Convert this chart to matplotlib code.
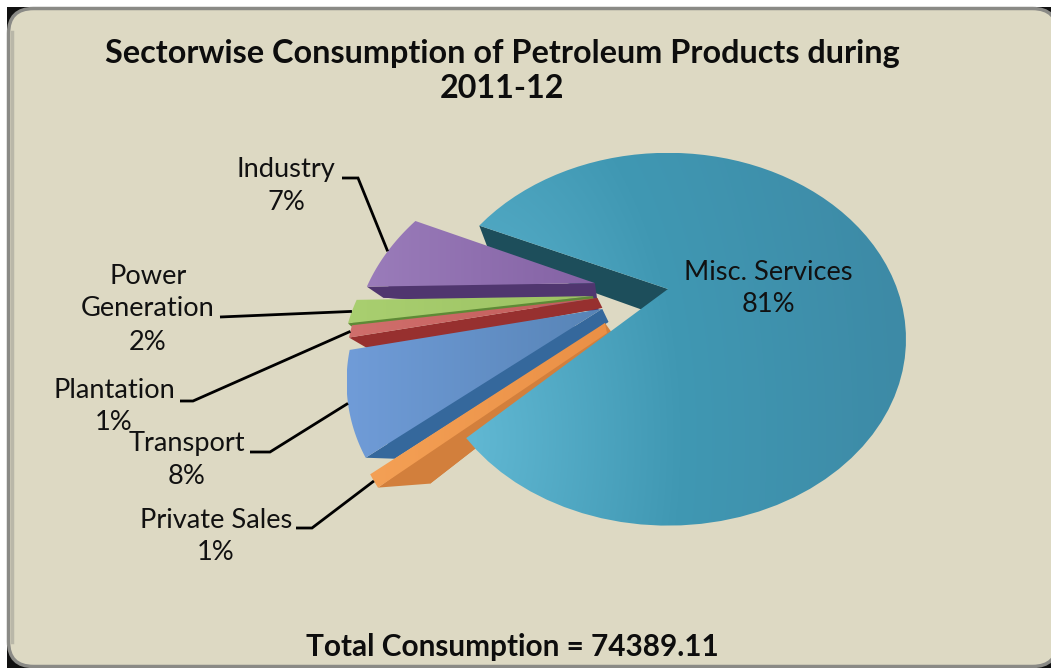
import numpy as np
import matplotlib
matplotlib.use("Agg")
import matplotlib.pyplot as plt
from matplotlib.patches import FancyBboxPatch, Polygon
from matplotlib.colors import to_rgb

# Sector shares of petroleum consumption, in percent
sectors = ["Misc. Services", "Industry", "Power Generation", "Plantation", "Transport", "Private Sales"]
shares = [81, 7, 2, 1, 8, 1]
total_consumption = 74389.11
title_lines = ["Sectorwise Consumption of Petroleum Products during", "2011-12"]

# Pie projection, in figure pixels
APEX = (668.0, 289.0)
WIDTH, HEIGHT, PERSP = 232.0, 175.0, 0.2727
START_ANGLE = 224.4
# Displacement of each exploded slice in unit-disc coordinates, and its radius
EXPLODE = {"Industry": (-0.318, 0.034), "Power Generation": (-0.32, -0.04), "Plantation": (-0.30, -0.05),
           "Transport": (-0.275, -0.11), "Private Sales": (-0.258, -0.1845)}
RADIUS = {"Misc. Services": 0.988, "Industry": 0.985, "Power Generation": 1.0, "Plantation": 1.0,
          "Transport": 1.0, "Private Sales": 0.975}
# Lower-face offset in pixels at the apex and at the rim, and its inward taper
DEPTH = {"Misc. Services": (30, 30), "Industry": (28, 11), "Power Generation": (3, 3), "Plantation": (10, 13),
         "Transport": (13, 1), "Private Sales": (16, -4)}
TAPER = {"Misc. Services": 0.94, "Industry": 0.946, "Power Generation": 0.99, "Plantation": 0.93,
         "Transport": 0.905, "Private Sales": 0.82}
TOP_COLORS = {"Industry": ("#9a7cba", "#8462a4"), "Power Generation": ("#a9cf70", "#9cc262"),
              "Plantation": ("#d06f6c", "#c25c5a"), "Transport": ("#709cd8", "#5784b6"),
              "Private Sales": ("#f4a055", "#ea9046")}
WALL_COLORS = {"Misc. Services": "#1d4e5b", "Industry": "#50366f", "Power Generation": "#5e8a36",
               "Plantation": "#97302f", "Transport": "#35689c", "Private Sales": "#d27f3c"}
# The thin private-sales slice keeps some width where it meets the centre
APEX_STRIP = {"Private Sales": (2, 10)}

fig = plt.figure(figsize=(10.51, 6.68), dpi=100, facecolor="white")
ax = fig.add_axes([0, 0, 1, 1])
ax.set_xlim(0, 1051)
ax.set_ylim(668, 0)
ax.axis("off")


def project(X, Y):
    k = 1 + PERSP * Y
    return APEX[0] + WIDTH * X / k, APEX[1] - HEIGHT * Y / k


def top_face(a0, a1, off, radius):
    t = np.radians(np.linspace(a0, a1, 80))
    X = np.r_[0, radius * np.cos(t)] + off[0]
    Y = np.r_[0, radius * np.sin(t)] + off[1]
    return np.column_stack(project(X, Y))


def lower(points, depth, taper):
    out = points.copy()
    reach = np.hypot(*(points - points[0]).T)
    reach = reach / reach.max()
    out[:, 0] = APEX[0] + (out[:, 0] - APEX[0]) * taper
    out[:, 1] += depth[0] + (depth[1] - depth[0]) * reach
    return out


def gradient_fill(points, rgb_func, zorder):
    x0, x1 = points[:, 0].min(), points[:, 0].max()
    y0, y1 = points[:, 1].min(), points[:, 1].max()
    xx, yy = np.meshgrid(np.linspace(x0, x1, 300), np.linspace(y0, y1, 300))
    im = ax.imshow(rgb_func(xx, yy), extent=(x0, x1, y1, y0), origin="upper",
                   aspect="auto", zorder=zorder, interpolation="bilinear")
    clip = Polygon(points, closed=True, transform=ax.transData, facecolor="none", edgecolor="none")
    ax.add_patch(clip)
    im.set_clip_path(clip)
    ax.set_xlim(0, 1051)
    ax.set_ylim(668, 0)


def mix(c0, c1, w):
    c0, c1 = np.array(to_rgb(c0)), np.array(to_rgb(c1))
    w = np.clip(w, 0, 1)[..., None]
    return c0 * (1 - w) + c1 * w


# Frame: black corners behind a rounded beige panel that runs off the right side
ax.add_patch(plt.Rectangle((7, 7), 1044, 661, facecolor="#111111", edgecolor="none", zorder=0))
panel = FancyBboxPatch((8.5, 8.5), 1049, 658, boxstyle="round,pad=0,rounding_size=25",
                       facecolor="#ddd9c3", edgecolor="#8a8a86", linewidth=2.5, zorder=1)
ax.add_patch(panel)
ax.plot([11.5, 11.5], [32, 642], color="#b9b7a8", lw=2.5, zorder=1.1)

# Angles run counter-clockwise; the sectors after the main slice fill the gap clockwise
sweeps = np.array(shares) * 3.6
misc_a0 = START_ANGLE - 360
misc_a1 = misc_a0 + sweeps[0]
geometry = {}
angle = misc_a1
z = 3
for name, sweep in zip(sectors[1:], sweeps[1:]):
    a0, a1 = angle, angle + sweep
    off = EXPLODE[name]
    top = top_face(a0, a1, off, RADIUS[name])
    bot = lower(top, DEPTH[name], TAPER[name])
    geometry[name] = (a0, a1, off, RADIUS[name])
    # lower face, then the wall along the cut edge, then the top face
    ax.add_patch(Polygon(bot, closed=True, facecolor=WALL_COLORS[name], edgecolor="none", zorder=z))
    wall = np.array([top[0], top[-1], bot[-1], bot[0]])
    ax.add_patch(Polygon(wall, closed=True, facecolor=WALL_COLORS[name], edgecolor="none", zorder=z))
    if name in APEX_STRIP:
        top = np.vstack([top, top[0] + np.array(APEX_STRIP[name])])
    c0, c1 = TOP_COLORS[name]
    xl, xr = top[:, 0].min(), top[:, 0].max()
    gradient_fill(top, lambda xx, yy, c0=c0, c1=c1, xl=xl, xr=xr: mix(c0, c1, (xx - xl) / (xr - xl)), z + 0.5)
    z += 1
    angle = a1

# Main slice: cut-face wall sits behind everything else
misc_top = top_face(misc_a0, misc_a1, (0, 0), RADIUS["Misc. Services"])
misc_bot = lower(misc_top, DEPTH["Misc. Services"], TAPER["Misc. Services"])
upper_wall = np.array([misc_top[0], misc_top[-1], misc_bot[-1], misc_bot[0]])
ax.add_patch(Polygon(upper_wall, closed=True, facecolor=WALL_COLORS["Misc. Services"], edgecolor="none", zorder=2))


def misc_shade(xx, yy):
    # lightest at the lower left of the slice, settling to a deep teal on the right
    d = np.hypot(xx - 470, (yy - 440) * 0.55)
    base = mix("#61b8d3", "#4098b3", d / 210)
    far = mix("#4098b3", "#3d88a4", (d - 210) / 260)
    return np.where((d < 210)[..., None], base, far)


gradient_fill(misc_top, misc_shade, 10)


def rim_point(name, frac=0.5):
    a0, a1, off, radius = geometry[name]
    a = np.radians(a0 + (a1 - a0) * frac)
    return project(radius * np.cos(a) + off[0], radius * np.sin(a) + off[1])


# Value labels with their leader lines
font = "Lato"
label_size = 19.6
leaders = {
    "Industry": [(342, 178), (358, 178)],
    "Power Generation": [(220, 317)],
    "Plantation": [(180, 401), (193, 401)],
    "Transport": [(250, 452), (270, 452)],
    "Private Sales": [(296, 528), (312, 528)],
}
for name, pts in leaders.items():
    end = rim_point(name, 0.5)
    xs, ys = zip(*(pts + [end]))
    ax.plot(xs, ys, color="black", lw=2, zorder=20, solid_capstyle="butt", solid_joinstyle="miter")

label_layout = {
    "Misc. Services": (768, [272, 305], ["Misc. Services"]),
    "Industry": (286, [170, 202], ["Industry"]),
    "Power Generation": (148, [276, 309, 342], ["Power", "Generation"]),
    "Plantation": (114, [390, 423], ["Plantation"]),
    "Transport": (187, [443, 476], ["Transport"]),
    "Private Sales": (216, [520, 553], ["Private Sales"]),
}
for name, share in zip(sectors, shares):
    cx, ys, words = label_layout[name]
    for line, y in zip(words + [f"{share}%"], ys):
        ax.text(cx, y, line, ha="center", va="center", fontsize=label_size, family=font, color="#111111", zorder=21)

for line, y in zip(title_lines, [53, 89]):
    ax.text(502, y, line, ha="center", va="center", fontsize=23.3, fontweight="bold", family=font, color="#0d0d0d", zorder=21)
ax.text(512, 647, f"Total Consumption = {total_consumption}", ha="center", va="center",
        fontsize=21.4, fontweight="bold", family=font, color="#0d0d0d", zorder=21)

fig.savefig("out.png", dpi=100, facecolor="white")
